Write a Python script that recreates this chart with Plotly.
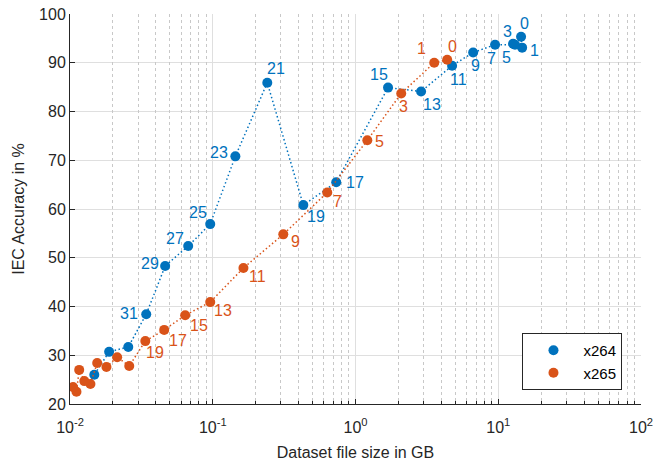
import math
import plotly.graph_objects as go

# ---------------- data ----------------
x264_size = [14.45, 14.7, 12.7, 13.1, 9.5, 6.67, 4.75, 2.88, 1.69, 0.733, 0.431, 0.241, 0.144,
             0.096, 0.0673, 0.0464, 0.0342, 0.0256, 0.0188, 0.0148]
x264_acc = [95.35, 93.1, 93.9, 93.7, 93.7, 92.1, 89.4, 84.1, 84.9, 65.5, 60.8, 85.9, 70.8,
            56.9, 52.4, 48.3, 38.4, 31.7, 30.7, 26.0]
x264_labels = ["0", "1", "3", "5", "7", "9", "11", "13", "15", "17", "19", "21", "23",
               "25", "27", "29", "31", "", "", ""]

x265_size = [4.39, 3.56, 2.09, 1.21, 0.634, 0.312, 0.164, 0.096, 0.0641, 0.0457, 0.0337,
             0.0260, 0.0214, 0.0180, 0.0155, 0.0139, 0.0126, 0.0116, 0.0111, 0.0105]
x265_acc = [90.6, 90.0, 83.7, 74.1, 63.4, 54.8, 47.9, 40.9, 38.2, 35.2, 32.9,
            27.8, 29.6, 27.6, 28.4, 24.1, 24.7, 27.0, 22.5, 23.5]
x265_labels = ["0", "1", "3", "5", "7", "9", "11", "13", "15", "17", "19",
               "", "", "", "", "", "", "", "", ""]

# label pixel offsets (styling)
x264_off = [(3, -13), (12, 3), (-6, -12), (-8, 13), (-4, 14), (2, 13), (6, 14), (11, 13),
            (-9, -13), (19, 0), (13, 11), (9, -14), (-16, -4), (-12, -12), (-13, -8),
            (-15, -3), (-17, -1), (0, 0), (0, 0), (0, 0)]
x265_off = [(5, -13), (-13, -14), (2, 13), (12, 1), (10, 9), (12, 7), (14, 9), (13, 8),
            (14, 10), (14, 11), (10, 11), (0, 0), (0, 0), (0, 0), (0, 0), (0, 0), (0, 0),
            (0, 0), (0, 0), (0, 0)]

x_tickvals = [0.01, 0.1, 1, 10, 100]
x_ticktext = ["10<sup>-2</sup>", "10<sup>-1</sup>", "10<sup>0</sup>", "10<sup>1</sup>", "10<sup>2</sup>"]
x_minor = [k * 10.0 ** d for d in range(-2, 2) for k in range(2, 10)]
y_tickvals = [20, 30, 40, 50, 60, 70, 80, 90, 100]

BLUE = "#0072BD"
ORANGE = "#D95319"
FONT = "Liberation Sans, Arial, sans-serif"
AX = "#262626"
DOT = "1.5px,2.5px"

fig = go.Figure()

# dummy trace on the minor-grid overlay axis
fig.add_trace(go.Scatter(x=[0.01], y=[20], xaxis="x2", mode="markers",
                         marker=dict(opacity=0), showlegend=False, hoverinfo="skip"))

for name, xs, ys, col in [("x264", x264_size, x264_acc, BLUE), ("x265", x265_size, x265_acc, ORANGE)]:
    fig.add_trace(go.Scatter(x=xs, y=ys, mode="lines", showlegend=False, hoverinfo="skip",
                             line=dict(color=col, width=1.5, dash=DOT)))
    fig.add_trace(go.Scatter(x=xs, y=ys, mode="markers", name=name,
                             marker=dict(color=col, size=10)))

for xs, ys, labs, offs, col in [(x264_size, x264_acc, x264_labels, x264_off, BLUE),
                                (x265_size, x265_acc, x265_labels, x265_off, ORANGE)]:
    for xv, yv, lab, (dx, dy) in zip(xs, ys, labs, offs):
        if not lab:
            continue
        fig.add_annotation(x=math.log10(xv), y=yv, xref="x", yref="y", text=lab, showarrow=False,
                           xshift=dx, yshift=-dy, xanchor="center", yanchor="middle",
                           font=dict(family=FONT, size=16, color=col))

fig.update_layout(
    width=657, height=464,
    margin=dict(l=70, r=16, t=14, b=60),
    paper_bgcolor="white", plot_bgcolor="white",
    font=dict(family=FONT, size=15, color=AX),
    showlegend=True,
    legend=dict(x=0.88, y=0.109, xanchor="center", yanchor="middle",
                bgcolor="white", bordercolor=AX, borderwidth=1,
                font=dict(family=FONT, size=15, color="black"),
                itemwidth=50, tracegroupgap=0),
    xaxis2=dict(type="log", range=[-2, 2], overlaying="x", side="bottom",
                tickmode="array", tickvals=x_minor, showticklabels=False,
                ticks="inside", ticklen=3, tickcolor=AX,
                showgrid=True, gridcolor="#c8c8c8", griddash="dot", gridwidth=1,
                showline=False, zeroline=False, automargin=False),
    xaxis=dict(type="log", range=[-2, 2], tickvals=x_tickvals, ticktext=x_ticktext,
               showline=True, linecolor=AX, linewidth=1, mirror=False,
               ticks="inside", ticklen=5, tickcolor=AX,
               showgrid=True, gridcolor="#dfdfdf", gridwidth=1,
               zeroline=False, ticklabelstandoff=9, automargin=False,
               title=dict(text="Dataset file size in GB", font=dict(size=16, color=AX), standoff=11),
               tickfont=dict(size=16, color=AX)),
    yaxis=dict(range=[20, 100], tickvals=y_tickvals,
               showline=True, linecolor=AX, linewidth=1, mirror=False,
               ticks="inside", ticklen=5, tickcolor=AX,
               showgrid=True, gridcolor="#dfdfdf", gridwidth=1, zeroline=False,
               automargin=False,
               title=dict(text="IEC Accuracy in %", font=dict(size=16, color=AX), standoff=10),
               tickfont=dict(size=16, color=AX)),
)

fig.write_html("out.html")
